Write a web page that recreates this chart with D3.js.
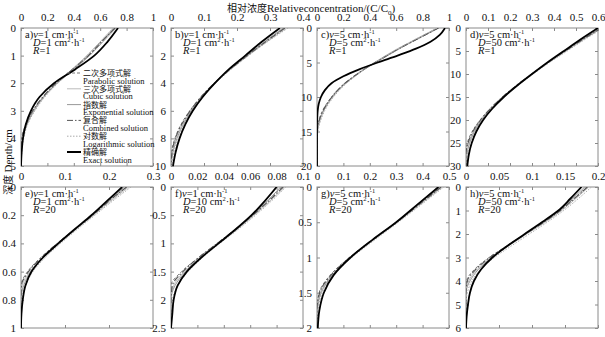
<!DOCTYPE html>
<html>
<head>
<meta charset="utf-8">
<script src="https://cdn.jsdelivr.net/npm/d3@7"></script>
<style>
  body { margin: 0; background: #fff; }
  svg text { font-family: "Liberation Serif", "Times New Roman", Tinos, "DejaVu Serif", serif; fill: #111; }
  svg .cjk { font-family: "Noto Sans CJK SC", "Noto Sans CJK JP", sans-serif; }
</style>
</head>
<body>
<div id="chart"></div>
<script>
// 8 small panels, depth on y (downward), relative concentration on x (top axis)
const svgWidth = 605, svgHeight = 337;

const panelTags = ["a", "b", "c", "d", "e", "f", "g", "h"];
const vValues = [1, 1, 5, 5, 1, 1, 5, 5];
const dValues = [1, 1, 5, 50, 1, 10, 5, 50];
const rValues = [1, 1, 1, 1, 20, 20, 20, 20];
const xMaxes = [1, 0.4, 1, 0.6, 0.3, 0.1, 0.5, 0.2];
const xTickVals = [
  [0, 0.2, 0.4, 0.6, 0.8, 1],
  [0, 0.1, 0.2, 0.3, 0.4],
  [0, 0.2, 0.4, 0.6, 0.8, 1],
  [0, 0.1, 0.2, 0.3, 0.4, 0.5, 0.6],
  [0, 0.1, 0.2, 0.3],
  [0, 0.02, 0.04, 0.06, 0.08, 0.1],
  [0, 0.1, 0.2, 0.3, 0.4, 0.5],
  [0, 0.05, 0.1, 0.15, 0.2]
];
const yMaxes = [5, 10, 20, 30, 1, 2.5, 2, 6];
const yTickVals = [
  [0, 1, 2, 3, 4, 5],
  [0, 2, 4, 6, 8, 10],
  [0, 5, 10, 15, 20],
  [0, 5, 10, 15, 20, 25, 30],
  [0, 0.2, 0.4, 0.6, 0.8, 1],
  [0, 0.5, 1, 1.5, 2, 2.5],
  [0, 0.5, 1, 1.5, 2],
  [0, 1, 2, 3, 4, 5, 6]
];

// series order: parabolic, cubic, exponential, combined, logarithmic, exact
const seriesZh = ["二次多项式解", "三次多项式解", "指数解", "复合解", "对数解", "精确解"];
const seriesEn = ["Parabolic solution", "Cubic solution", "Exponential solution", "Combined solution", "Logarithmic solution", "Exact solution"];

// depths (cm) and concentrations
const depthA = [0, 0.5, 1, 1.5, 2, 2.5, 3, 3.5, 4, 4.5, 5];
const concA = [
  [0.71, 0.61, 0.51, 0.39, 0.27, 0.17, 0.09, 0.035, 0.005, 0, 0],
  [0.70, 0.60, 0.50, 0.385, 0.27, 0.175, 0.10, 0.045, 0.012, 0, 0],
  [0.72, 0.62, 0.52, 0.40, 0.275, 0.17, 0.095, 0.045, 0.015, 0.003, 0],
  [0.71, 0.61, 0.51, 0.39, 0.265, 0.165, 0.088, 0.038, 0.008, 0, 0],
  [0.70, 0.60, 0.50, 0.39, 0.28, 0.18, 0.105, 0.05, 0.02, 0.006, 0],
  [0.735, 0.655, 0.555, 0.41, 0.25, 0.14, 0.075, 0.036, 0.015, 0.005, 0]
];
const depthB = [0, 1, 2, 3, 4, 5, 6, 7, 8, 9, 10];
const concB = [
  [0.345, 0.285, 0.23, 0.178, 0.13, 0.09, 0.057, 0.03, 0.012, 0.002, 0],
  [0.35, 0.29, 0.233, 0.18, 0.133, 0.093, 0.06, 0.034, 0.015, 0.004, 0],
  [0.34, 0.283, 0.23, 0.178, 0.132, 0.094, 0.062, 0.037, 0.018, 0.006, 0],
  [0.345, 0.287, 0.232, 0.179, 0.131, 0.091, 0.058, 0.032, 0.013, 0.003, 0],
  [0.355, 0.292, 0.235, 0.182, 0.135, 0.096, 0.064, 0.04, 0.022, 0.009, 0.002],
  [0.33, 0.275, 0.225, 0.175, 0.133, 0.096, 0.066, 0.043, 0.026, 0.014, 0.006]
];
const depthC = [0, 1, 2, 3, 4, 5, 6, 7, 8, 9, 10, 11, 12, 13, 14, 15, 16, 18, 20];
const concC = [
  [0.92, 0.82, 0.72, 0.62, 0.53, 0.44, 0.355, 0.28, 0.21, 0.155, 0.11, 0.072, 0.042, 0.02, 0.006, 0, 0, 0, 0],
  [0.91, 0.81, 0.71, 0.61, 0.52, 0.435, 0.355, 0.285, 0.22, 0.165, 0.12, 0.082, 0.052, 0.03, 0.014, 0.004, 0, 0, 0],
  [0.92, 0.82, 0.72, 0.625, 0.535, 0.445, 0.36, 0.285, 0.215, 0.16, 0.115, 0.078, 0.048, 0.026, 0.011, 0.003, 0, 0, 0],
  [0.92, 0.82, 0.72, 0.62, 0.53, 0.44, 0.355, 0.28, 0.212, 0.157, 0.112, 0.075, 0.045, 0.023, 0.008, 0.001, 0, 0, 0],
  [0.91, 0.81, 0.71, 0.615, 0.525, 0.44, 0.36, 0.29, 0.225, 0.17, 0.125, 0.088, 0.058, 0.035, 0.018, 0.007, 0.001, 0, 0],
  [0.97, 0.93, 0.86, 0.75, 0.61, 0.46, 0.32, 0.2, 0.11, 0.06, 0.03, 0.013, 0.005, 0.002, 0, 0, 0, 0, 0]
];
const depthD = [0, 2.5, 5, 7.5, 10, 12.5, 15, 17.5, 20, 22.5, 25, 27.5, 30];
const concD = [
  [0.615, 0.53, 0.45, 0.372, 0.298, 0.228, 0.165, 0.11, 0.064, 0.028, 0.006, 0, 0],
  [0.62, 0.535, 0.455, 0.376, 0.302, 0.232, 0.168, 0.113, 0.068, 0.034, 0.011, 0, 0],
  [0.61, 0.527, 0.449, 0.373, 0.3, 0.231, 0.169, 0.115, 0.071, 0.038, 0.016, 0.004, 0],
  [0.615, 0.531, 0.451, 0.373, 0.299, 0.229, 0.166, 0.111, 0.066, 0.031, 0.009, 0, 0],
  [0.625, 0.54, 0.46, 0.38, 0.306, 0.236, 0.173, 0.118, 0.074, 0.041, 0.019, 0.006, 0],
  [0.60, 0.52, 0.445, 0.37, 0.30, 0.233, 0.172, 0.12, 0.078, 0.047, 0.026, 0.013, 0.006]
];
const depthE = [0, 0.1, 0.2, 0.3, 0.4, 0.5, 0.6, 0.7, 0.8, 0.9, 1];
const concE = [
  [0.24, 0.2, 0.162, 0.122, 0.082, 0.045, 0.015, 0, 0, 0, 0],
  [0.245, 0.204, 0.165, 0.125, 0.086, 0.05, 0.02, 0.003, 0, 0, 0],
  [0.235, 0.198, 0.162, 0.123, 0.085, 0.05, 0.022, 0.006, 0, 0, 0],
  [0.24, 0.2, 0.163, 0.123, 0.083, 0.047, 0.017, 0.001, 0, 0, 0],
  [0.25, 0.208, 0.168, 0.128, 0.09, 0.055, 0.027, 0.01, 0.002, 0, 0],
  [0.23, 0.195, 0.16, 0.122, 0.085, 0.05, 0.024, 0.01, 0.004, 0.001, 0]
];
const depthF = [0, 0.25, 0.5, 0.75, 1, 1.25, 1.5, 1.75, 2, 2.25, 2.5];
const concF = [
  [0.084, 0.073, 0.062, 0.049, 0.035, 0.021, 0.008, 0, 0, 0, 0],
  [0.086, 0.075, 0.063, 0.05, 0.036, 0.022, 0.01, 0.002, 0, 0, 0],
  [0.083, 0.073, 0.062, 0.05, 0.036, 0.023, 0.011, 0.003, 0, 0, 0],
  [0.085, 0.074, 0.062, 0.049, 0.035, 0.021, 0.009, 0.001, 0, 0, 0],
  [0.087, 0.076, 0.064, 0.051, 0.037, 0.024, 0.013, 0.005, 0.001, 0, 0],
  [0.08, 0.071, 0.061, 0.049, 0.036, 0.023, 0.012, 0.005, 0.002, 0.001, 0]
];
const depthG = [0, 0.25, 0.5, 0.75, 1, 1.25, 1.5, 1.75, 2];
const concG = [
  [0.47, 0.385, 0.3, 0.21, 0.122, 0.05, 0.008, 0, 0],
  [0.475, 0.39, 0.304, 0.214, 0.127, 0.056, 0.013, 0, 0],
  [0.465, 0.383, 0.3, 0.212, 0.127, 0.058, 0.016, 0.002, 0],
  [0.47, 0.387, 0.301, 0.21, 0.124, 0.053, 0.01, 0, 0],
  [0.48, 0.395, 0.308, 0.219, 0.132, 0.062, 0.02, 0.004, 0],
  [0.46, 0.38, 0.30, 0.21, 0.127, 0.063, 0.026, 0.009, 0.003]
];
const depthH = [0, 0.5, 1, 1.5, 2, 2.5, 3, 3.5, 4, 4.5, 5, 5.5, 6];
const concH = [
  [0.183, 0.163, 0.142, 0.117, 0.09, 0.062, 0.035, 0.013, 0.001, 0, 0, 0, 0],
  [0.186, 0.166, 0.145, 0.12, 0.092, 0.065, 0.038, 0.017, 0.004, 0, 0, 0, 0],
  [0.18, 0.161, 0.142, 0.117, 0.09, 0.064, 0.039, 0.019, 0.006, 0, 0, 0, 0],
  [0.184, 0.164, 0.143, 0.118, 0.09, 0.063, 0.036, 0.015, 0.002, 0, 0, 0, 0],
  [0.19, 0.17, 0.148, 0.123, 0.096, 0.069, 0.043, 0.022, 0.009, 0.002, 0, 0, 0],
  [0.175, 0.158, 0.14, 0.115, 0.089, 0.063, 0.04, 0.023, 0.012, 0.006, 0.003, 0.001, 0]
];
const depths = [depthA, depthB, depthC, depthD, depthE, depthF, depthG, depthH];
const concs = [concA, concB, concC, concD, concE, concF, concG, concH];

// line styles per series
const lineColors = ["#777", "#bbb", "#999", "#555", "#aaa", "#000"];
const lineDashes = ["3,2", null, null, "6,2,1.5,2", "1.5,1.5", null];
const lineWidths = [1, 1, 1, 1.1, 1, 1.8];

// panel layout
const colLeft = [21, 171, 317, 466];
const rowTop = [28, 187];
const rowHeight = [138, 141];
const panelW = 132;

const svg = d3.select("#chart").append("svg")
  .attr("width", svgWidth)
  .attr("height", svgHeight);

const fmt = d => String(+d.toFixed(3));

panelTags.forEach((tag, i) => {
  const col = i % 4, row = Math.floor(i / 4);
  const h = rowHeight[row];
  const g = svg.append("g").attr("transform", `translate(${colLeft[col]},${rowTop[row]})`);

  const x = d3.scaleLinear().domain([0, xMaxes[i]]).range([0, panelW]);
  const y = d3.scaleLinear().domain([0, yMaxes[i]]).range([0, h]);

  g.append("clipPath").attr("id", "clip" + i)
    .append("rect").attr("width", panelW).attr("height", h);

  // frame
  g.append("rect").attr("width", panelW).attr("height", h)
    .attr("fill", "none").attr("stroke", "#8a8a8a").attr("stroke-width", 1);

  // top axis, ticks pointing inward
  const xTop = g.append("g")
    .call(d3.axisTop(x).tickValues(xTickVals[i]).tickSize(-3).tickPadding(7).tickFormat(fmt));
  const xBot = g.append("g").attr("transform", `translate(0,${h})`)
    .call(d3.axisBottom(x).tickValues(xTickVals[i]).tickSize(-3).tickFormat(""));
  const yLeft = g.append("g")
    .call(d3.axisLeft(y).tickValues(yTickVals[i]).tickSize(-3).tickPadding(5).tickFormat(fmt));
  const yRight = g.append("g").attr("transform", `translate(${panelW},0)`)
    .call(d3.axisRight(y).tickValues(yTickVals[i]).tickSize(-3).tickFormat(""));
  [xTop, xBot, yLeft, yRight].forEach(a => {
    a.select(".domain").remove();
    a.selectAll("line").attr("stroke", "#8a8a8a");
    a.selectAll("text").attr("font-size", 11).attr("fill", "#111");
  });

  // curves
  const line = d3.line()
    .x(d => x(d[0]))
    .y(d => y(d[1]))
    .curve(d3.curveMonotoneY);
  const plot = g.append("g").attr("clip-path", `url(#clip${i})`);
  concs[i].forEach((series, s) => {
    const pts = series.map((c, k) => [c, depths[i][k]]);
    plot.append("path")
      .attr("d", line(pts))
      .attr("fill", "none")
      .attr("stroke", lineColors[s])
      .attr("stroke-width", lineWidths[s])
      .attr("stroke-dasharray", lineDashes[s]);
  });

  // parameter annotation
  const t1 = g.append("text").attr("x", 4).attr("y", 10).attr("font-size", 10.5);
  t1.append("tspan").text(tag + ")");
  t1.append("tspan").attr("font-style", "italic").text("v");
  t1.append("tspan").text("=" + vValues[i] + " cm·h");
  t1.append("tspan").attr("font-size", 6.5).attr("dy", -4).text("-1");
  const t2 = g.append("text").attr("x", 12).attr("y", 18).attr("font-size", 10.5);
  t2.append("tspan").attr("font-style", "italic").text("D");
  t2.append("tspan").text("=" + dValues[i] + " cm");
  t2.append("tspan").attr("font-size", 6.5).attr("dy", -4).text("2");
  t2.append("tspan").attr("dy", 4).text("·h");
  t2.append("tspan").attr("font-size", 6.5).attr("dy", -4).text("-1");
  const t3 = g.append("text").attr("x", 12).attr("y", 26).attr("font-size", 10.5);
  t3.append("tspan").attr("font-style", "italic").text("R");
  t3.append("tspan").text("=" + rValues[i]);

  // legend inside panel a
  if (i === 0) {
    const lg = g.append("g").attr("transform", "translate(46,45)");
    seriesZh.forEach((zh, s) => {
      const yy = s * 15.8;
      lg.append("line")
        .attr("x1", 0).attr("x2", 14).attr("y1", yy).attr("y2", yy)
        .attr("stroke", lineColors[s])
        .attr("stroke-width", s === 5 ? 2 : 1)
        .attr("stroke-dasharray", lineDashes[s]);
      lg.append("text").attr("class", "cjk").attr("x", 16).attr("y", yy + 3)
        .attr("font-size", 8).attr("fill", "#666")
        .text(zh);
      lg.append("text").attr("x", 16).attr("y", yy + 10.5)
        .attr("font-size", 8.5).text(seriesEn[s]);
    });
  }
});

// shared axis titles
const title = svg.append("text").attr("x", 227).attr("y", 11.5).attr("font-size", 11);
title.append("tspan").attr("class", "cjk").attr("font-size", 10).text("相对浓度");
title.append("tspan").text("Relativeconcentration/(C/C");
title.append("tspan").attr("font-size", 7).attr("dy", 3).text("0");
title.append("tspan").attr("dy", -3).text(")");

const ylab = svg.append("text")
  .attr("transform", "translate(12,162) rotate(-90)")
  .attr("text-anchor", "middle")
  .attr("font-size", 11);
ylab.append("tspan").attr("class", "cjk").attr("font-size", 10).text("深度 ");
ylab.append("tspan").text("Depth/cm");
</script>
</body>
</html>
